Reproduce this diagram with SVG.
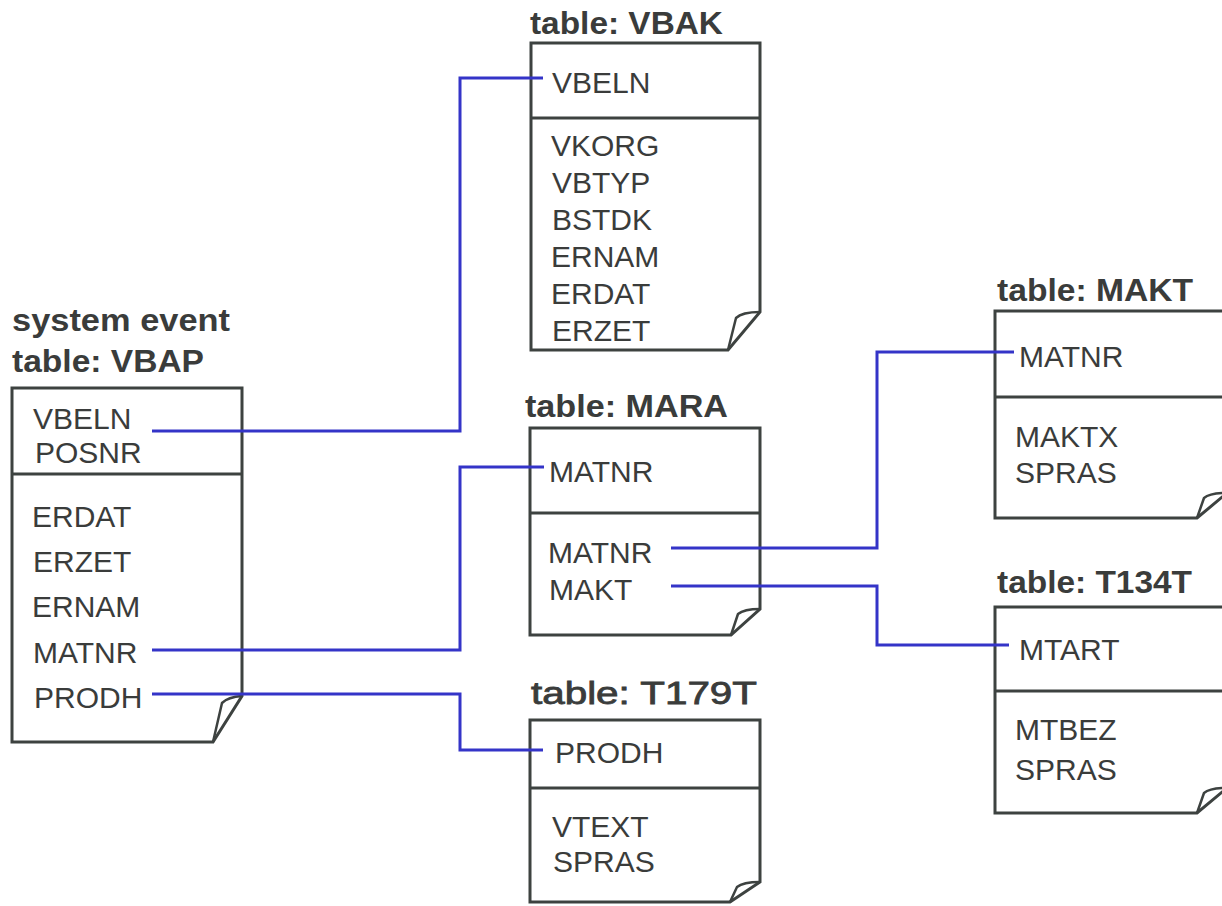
<svg xmlns="http://www.w3.org/2000/svg" width="1222" height="906" viewBox="0 0 1222 906">
<style>
.box{fill:#fff;stroke:#3d4240;stroke-width:3;stroke-linejoin:miter}
.div{stroke:#3d4240;stroke-width:3;fill:none}
.fold{fill:none;stroke:#3d4240;stroke-width:2.5;stroke-linejoin:round}
.t{font-family:"Liberation Sans",Arial,sans-serif;font-size:30px;fill:#3a3c3b}
.h{font-family:"Liberation Sans",Arial,sans-serif;font-size:31px;font-weight:bold;fill:#3a3c3b}
.h2{font-family:"Liberation Sans",Arial,sans-serif;font-size:31px;fill:#3a3c3b;stroke:#3a3c3b;stroke-width:0.8}
.c{fill:none;stroke:#3434c8;stroke-width:3;stroke-linejoin:miter}
</style>
<rect width="1222" height="906" fill="#fff"/>

<g id="VBAP">
<text class="h" x="12" y="331" textLength="218" lengthAdjust="spacingAndGlyphs">system event</text>
<text class="h" x="12" y="372" textLength="192" lengthAdjust="spacingAndGlyphs">table: VBAP</text>
<path class="box" d="M12,388 H242 V696 L213,742 H12 Z"/>
<line class="div" x1="12" y1="474" x2="242" y2="474"/>
<path class="fold" d="M213,742 L222,703 Q228,697 242,696"/>
<text class="t" x="33" y="429">VBELN</text>
<text class="t" x="35" y="463">POSNR</text>
<text class="t" x="32" y="527">ERDAT</text>
<text class="t" x="33" y="572">ERZET</text>
<text class="t" x="32" y="617">ERNAM</text>
<text class="t" x="33" y="663">MATNR</text>
<text class="t" x="34" y="708">PRODH</text>
</g>

<g id="VBAK">
<text class="h" x="530" y="34" textLength="193" lengthAdjust="spacingAndGlyphs">table: VBAK</text>
<path class="box" d="M531,43 H760 V312 L728,350 H531 Z"/>
<line class="div" x1="531" y1="118" x2="760" y2="118"/>
<path class="fold" d="M728,350 L736,318 Q742,312 760,312"/>
<text class="t" x="552" y="93">VBELN</text>
<text class="t" x="551" y="156">VKORG</text>
<text class="t" x="552" y="193">VBTYP</text>
<text class="t" x="552" y="230">BSTDK</text>
<text class="t" x="551" y="267">ERNAM</text>
<text class="t" x="551" y="304">ERDAT</text>
<text class="t" x="552" y="341">ERZET</text>
</g>

<g id="MARA">
<text class="h" x="525" y="417" textLength="203" lengthAdjust="spacingAndGlyphs">table: MARA</text>
<path class="box" d="M530,428 H760 V609 L731,635 H530 Z"/>
<line class="div" x1="530" y1="513" x2="760" y2="513"/>
<path class="fold" d="M731,635 L738,614 Q744,609 760,609"/>
<text class="t" x="549" y="482">MATNR</text>
<text class="t" x="548" y="563">MATNR</text>
<text class="t" x="549" y="600">MAKT</text>
</g>

<g id="T179T">
<text class="h2" x="531" y="704" textLength="226" lengthAdjust="spacingAndGlyphs">table: T179T</text>
<path class="box" d="M530,720 H760 V882 L730,902 H530 Z"/>
<line class="div" x1="530" y1="788" x2="760" y2="788"/>
<path class="fold" d="M730,902 L737,887 Q743,882 760,882"/>
<text class="t" x="555" y="763">PRODH</text>
<text class="t" x="552" y="837">VTEXT</text>
<text class="t" x="553" y="872">SPRAS</text>
</g>

<g id="MAKT">
<text class="h" x="997" y="301" textLength="196" lengthAdjust="spacingAndGlyphs">table: MAKT</text>
<path class="box" d="M995,311 H1227 V493 L1197,518 H995 Z"/>
<line class="div" x1="995" y1="397" x2="1227" y2="397"/>
<path class="fold" d="M1197,518 L1204,498 Q1210,493 1227,493"/>
<text class="t" x="1019" y="367">MATNR</text>
<text class="t" x="1015" y="447">MAKTX</text>
<text class="t" x="1015" y="483">SPRAS</text>
</g>

<g id="T134T">
<text class="h" x="997" y="593" textLength="195" lengthAdjust="spacingAndGlyphs">table: T134T</text>
<path class="box" d="M995,607 H1227 V788 L1197,813 H995 Z"/>
<line class="div" x1="995" y1="691" x2="1227" y2="691"/>
<path class="fold" d="M1197,813 L1204,793 Q1210,788 1227,788"/>
<text class="t" x="1019" y="660">MTART</text>
<text class="t" x="1015" y="740">MTBEZ</text>
<text class="t" x="1015" y="780">SPRAS</text>
</g>

<g id="connectors">
<path class="c" d="M152,431 H460 V78 H543"/>
<path class="c" d="M152,650 H460 V467 H544"/>
<path class="c" d="M152,694 H460 V750 H543"/>
<path class="c" d="M671,548 H877 V352 H1014"/>
<path class="c" d="M671,586 H877 V645 H1009"/>
</g>
</svg>
